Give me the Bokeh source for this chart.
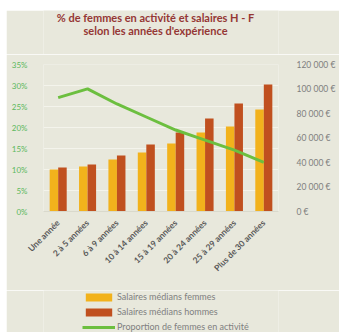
from bokeh.plotting import figure
from bokeh.embed import file_html
from bokeh.resources import INLINE
from bokeh.layouts import column
from bokeh.models import (ColumnDataSource, FactorRange, Range1d, LinearAxis,
                          NumeralTickFormatter, CustomJSTickFormatter, Legend,
                          LegendItem, FixedTicker, Label)
from bokeh.transform import dodge
import math

categories = ["Une année", "2 à 5 années", "6 à 9 années", "10 à 14 années",
              "15 à 19 années", "20 à 24 années", "25 à 29 années", "Plus de 30 années"]
salaires_femmes = [34300, 36700, 42400, 48100, 55500, 64500, 69400, 83200]
salaires_hommes = [35900, 38400, 45700, 54700, 64500, 75900, 88100, 103600]
proportion_femmes = [0.271, 0.292, 0.256, 0.225, 0.194, 0.170, 0.146, 0.117]
pct_ticks = [0, 0.05, 0.10, 0.15, 0.20, 0.25, 0.30, 0.35]
eur_ticks = [0, 20000, 40000, 60000, 80000, 100000, 120000]
title_lines = ["% de femmes en activité et salaires H - F",
               "selon les années d'expérience"]
legend_labels = ["Salaires médians femmes", "Salaires médians hommes",
                 "Proportion de femmes en activité"]

BG = "#e8e8dc"
FONT = "Lato"
C_F = "#f2b21c"
C_H = "#c0501f"
C_P = "#6cbf3f"
ML, MR = 37, 61

src = ColumnDataSource(dict(cat=categories, f=salaires_femmes,
                            h=salaires_hommes, p=proportion_femmes))

# ---------- title strip ----------
tf = figure(width=333, height=44, x_range=Range1d(0, 1), y_range=Range1d(0, 1),
            output_backend="svg", toolbar_location=None, title=None,
            x_axis_type=None, y_axis_type=None, min_border_left=ML,
            min_border_right=MR, min_border_top=0, min_border_bottom=0,
            background_fill_color=BG, border_fill_color=BG, outline_line_color=None)
tf.margin = (10, 0, 0, 6)
for txt, yy in zip(title_lines, [37, 24]):
    tf.add_layout(Label(x=112, y=yy, x_units="screen", y_units="screen", text=txt,
                        text_align="center", text_baseline="middle",
                        text_color="#953735", text_font=FONT,
                        text_font_size="11px", text_font_style="bold"))

# ---------- main chart ----------
p = figure(width=333, height=236, x_range=FactorRange(*categories, range_padding=0),
           y_range=Range1d(0, 0.35), output_backend="svg", toolbar_location=None,
           min_border_left=ML, min_border_right=MR, min_border_top=10,
           min_border_bottom=79, background_fill_color=BG, border_fill_color=BG,
           outline_line_color=None, title=None)
p.margin = (0, 0, 0, 6)

p.extra_y_ranges = {"eur": Range1d(0, 120000)}

p.vbar(x=dodge("cat", -0.145, range=p.x_range), top="f", width=0.29,
       source=src, y_range_name="eur", color=C_F, line_color=None)
p.vbar(x=dodge("cat", 0.145, range=p.x_range), top="h", width=0.29,
       source=src, y_range_name="eur", color=C_H, line_color=None)
p.line(x="cat", y="p", source=src, line_color=C_P, line_width=3)

p.yaxis.ticker = FixedTicker(ticks=pct_ticks)
p.yaxis.formatter = NumeralTickFormatter(format="0%")
p.yaxis.major_label_text_color = "#5cb85c"
p.yaxis.major_label_text_font = FONT
p.yaxis.major_label_text_font_size = "8px"
p.yaxis.axis_line_color = None
p.yaxis.major_tick_line_color = None
p.yaxis.minor_tick_line_color = None
p.yaxis.major_label_standoff = 10

ra = LinearAxis(y_range_name="eur", ticker=FixedTicker(ticks=eur_ticks),
                formatter=CustomJSTickFormatter(code="""
                    return tick.toString().replace(/\\B(?=(\\d{3})+(?!\\d))/g, ' ') + ' €';
                """))
ra.major_label_text_color = "#7f7f7f"
ra.major_label_text_font = FONT
ra.major_label_text_font_size = "8.5px"
ra.axis_line_color = None
ra.major_tick_line_color = None
ra.minor_tick_line_color = None
ra.major_label_standoff = 12
p.add_layout(ra, "right")

p.xaxis.major_label_orientation = math.pi / 4
p.xaxis.major_label_text_color = "#595959"
p.xaxis.major_label_text_font = FONT
p.xaxis.major_label_text_font_size = "8.5px"
p.xaxis.major_label_text_font_style = "bold"
p.xaxis.axis_line_color = "#d9d9cc"
p.xaxis.major_tick_line_color = None
p.xaxis.minor_tick_line_color = None
p.xaxis.major_label_standoff = 4

p.xgrid.grid_line_color = None
p.ygrid.ticker = FixedTicker(ticks=pct_ticks)
p.ygrid.grid_line_color = "#f4f4ec"
p.ygrid.grid_line_width = 1

# ---------- legend strip (same series, scaled out of view; only the key shows) ----------
lf = figure(width=333, height=42, x_range=FactorRange(*categories),
            y_range=Range1d(1e7, 1e7 + 1), output_backend="svg", toolbar_location=None,
            title=None, x_axis_type=None, y_axis_type=None, min_border_left=ML,
            min_border_right=MR, min_border_top=0, min_border_bottom=0,
            background_fill_color=BG, border_fill_color=BG, outline_line_color=None)
lf.margin = (0, 0, 0, 6)
r1 = lf.vbar(x="cat", top="f", bottom="f", width=0.29, source=src,
             color=C_F, line_color=None)
r2 = lf.vbar(x="cat", top="h", bottom="h", width=0.29, source=src,
             color=C_H, line_color=None)
r3 = lf.line(x="cat", y="p", source=src, line_color=C_P, line_width=3)

legend = Legend(items=[LegendItem(label=legend_labels[0], renderers=[r1]),
                       LegendItem(label=legend_labels[1], renderers=[r2]),
                       LegendItem(label=legend_labels[2], renderers=[r3])],
                location=(39, -2), orientation="vertical",
                background_fill_alpha=0, border_line_color=None,
                padding=0, spacing=0, margin=0,
                glyph_width=33, glyph_height=10, label_height=15,
                label_standoff=2, label_text_font=FONT,
                label_text_font_size="9px", label_text_color="#7f7f7f")
lf.add_layout(legend, "center")

layout = column(tf, p, lf, spacing=0)
layout.styles = {"background-color": "#ffffff"}

open("out.html", "w").write(file_html(layout, INLINE))
